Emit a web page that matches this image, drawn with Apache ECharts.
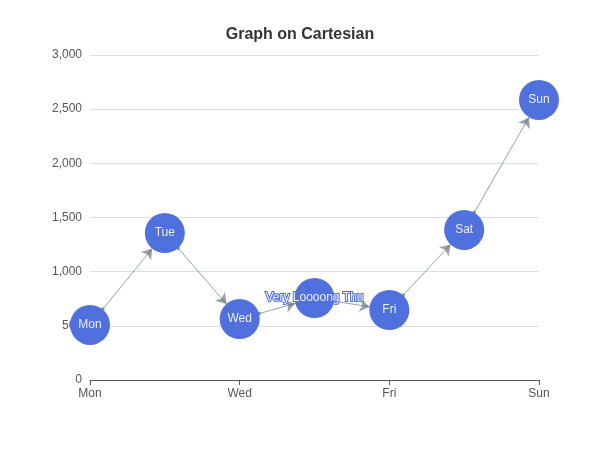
<!DOCTYPE html>
<html>
<head>
<meta charset="utf-8">
<script src="https://cdn.jsdelivr.net/npm/echarts@6/dist/echarts.min.js"></script>
<style>
  html, body { margin: 0; padding: 0; background: #fff; }
  #main { width: 600px; height: 450px; }
</style>
</head>
<body>
<div id="main"></div>
<script>
const axisData = ['Mon', 'Tue', 'Wed', 'Very Loooong Thu', 'Fri', 'Sat', 'Sun'];
const values = [508, 1357, 563, 757, 646, 1385, 2585];
const yTicks = {min: 0, max: 3000, interval: 500};

const links = values.slice(1).map((v, i) => ({source: i, target: i + 1}));

const chart = echarts.init(document.getElementById('main'));
chart.setOption({
  title: {
    text: 'Graph on Cartesian',
    left: 'center',
    top: 22,
    textStyle: {fontSize: 16, fontWeight: 'bold', color: '#333'}
  },
  tooltip: {},
  grid: {left: 90, right: 61, top: 55, bottom: 70},
  xAxis: {
    type: 'category',
    boundaryGap: false,
    data: axisData,
    axisLabel: {interval: 1}
  },
  yAxis: {
    type: 'value',
    min: yTicks.min,
    max: yTicks.max,
    interval: yTicks.interval
  },
  series: [{
    type: 'graph',
    layout: 'none',
    coordinateSystem: 'cartesian2d',
    symbolSize: 40,
    label: {show: true},
    edgeSymbol: ['circle', 'arrow'],
    edgeSymbolSize: [4, 10],
    data: values,
    links: links,
    lineStyle: {color: '#2f4554'}
  }]
});
</script>
</body>
</html>
